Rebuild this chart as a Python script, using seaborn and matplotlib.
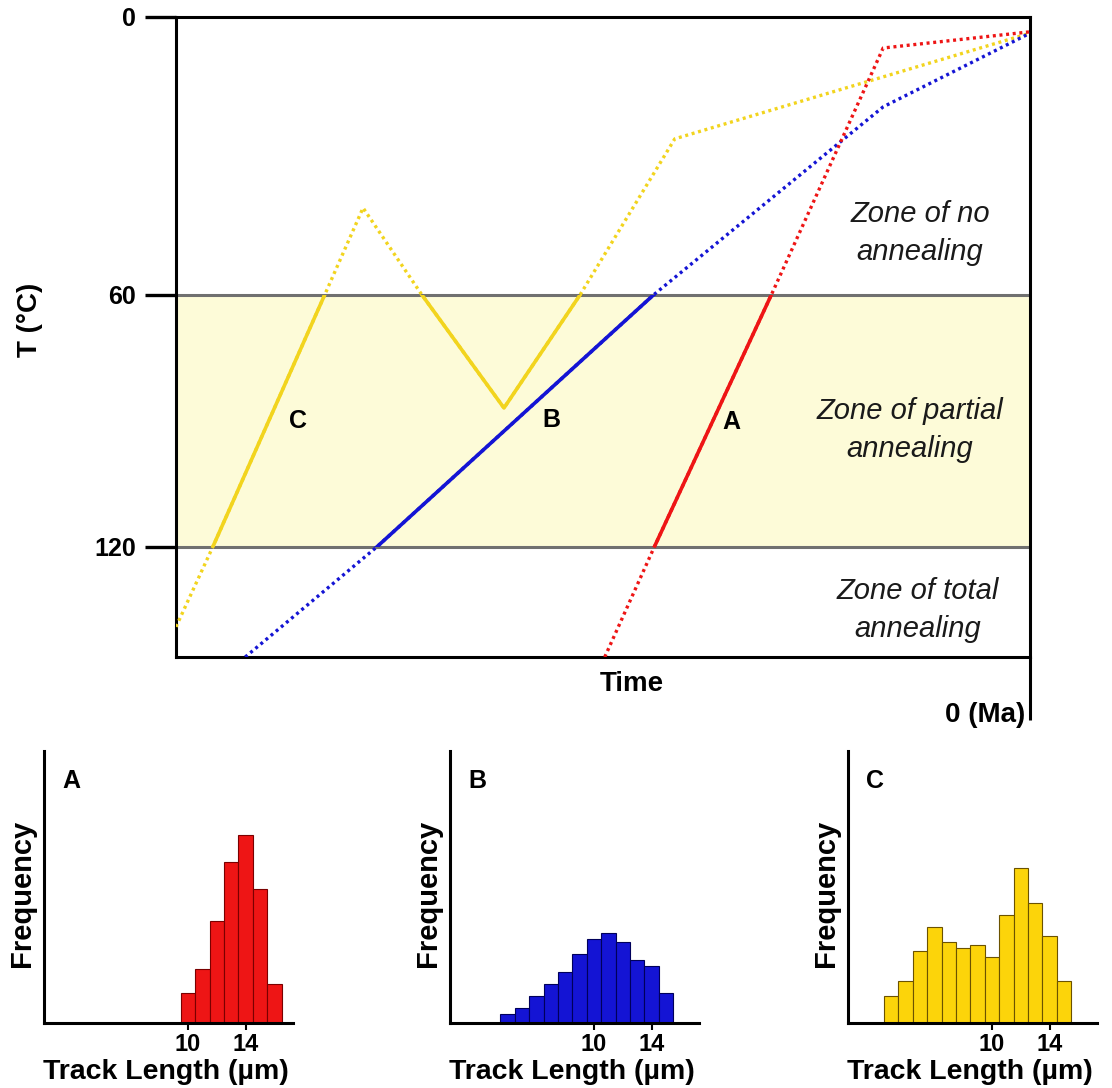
import numpy as np
import pandas as pd
import matplotlib
matplotlib.use("Agg")
import matplotlib.pyplot as plt
from matplotlib.patches import Rectangle
import seaborn as sns

# -----------------------------------------------
# Data: thermal histories (age in Ma, temperature in °C)
# -----------------------------------------------
age_A = [49.8, 44.0, 30.3, 17.2, 0.0]
temp_A = [146.2, 120, 60, 6.7, 3.2]

age_B = [91.9, 76.5, 44.1, 17.2, 0.0]
temp_B = [146.2, 120, 60, 19.4, 3.5]

age_C = [100.0, 95.7, 82.6, 78.1, 71.2, 61.6, 52.7, 41.6, 0.0]
temp_C = [139.0, 120, 60, 41.2, 60, 86.9, 60, 26.3, 3.5]

zone_top = 60
zone_bottom = 120
temp_ticks = [0, 60, 120]

# Track length histograms (bin centres in µm, frequency)
len_A = [10, 11, 12, 13, 14, 15, 16]
freq_A = [10, 18, 34, 54, 63, 45, 13]

len_B = [4, 5, 6, 7, 8, 9, 10, 11, 12, 13, 14, 15]
freq_B = [3, 5, 9, 13, 17, 23, 28, 30, 27, 21, 19, 10]

len_C = [3, 4, 5, 6, 7, 8, 9, 10, 11, 12, 13, 14, 15]
freq_C = [9, 14, 24, 32, 27, 25, 26, 22, 36, 52, 40, 29, 14]

length_ticks = [10, 14]

red = '#ee1515'
blue = '#1414d4'
yellow = '#f2d41e'

sns.set_style('white')
plt.rcParams['font.family'] = ['Liberation Sans', 'DejaVu Sans']
plt.rcParams['text.color'] = 'black'
plt.rcParams['xtick.color'] = 'black'
plt.rcParams['ytick.color'] = 'black'

fig = plt.figure(figsize=(11.12, 10.88), dpi=100)

# -----------------------------------------------
# 1. Main T-t plot
# -----------------------------------------------
ax = fig.add_axes([0.1583, 0.3961, 0.768, 0.5883])

# schematic: the 0-60 band is drawn a bit taller than 60-120
tk = [-100, 0, 60, 120, 400]
px = [-463.3, 0, 278, 530, 530 + 280 * 4.2]
fwd = lambda t: np.interp(t, tk, px)
inv = lambda p: np.interp(p, px, tk)
ax.set_yscale('function', functions=(fwd, inv))

ax.axhspan(zone_top, zone_bottom, color='#fdfbd8', zorder=0)
ax.axhline(zone_top, color='#707070', lw=2.2, zorder=1)
ax.axhline(zone_bottom, color='#707070', lw=2.2, zorder=1)

# solid inside the partial annealing zone, dotted outside
clip = Rectangle((0, zone_top), 100, zone_bottom - zone_top,
                 transform=ax.transData, facecolor='none', edgecolor='none')
ax.add_patch(clip)

for ages, temps, col in [(age_C, temp_C, yellow), (age_B, temp_B, blue), (age_A, temp_A, red)]:
    sns.lineplot(x=ages, y=temps, sort=False, estimator=None, ax=ax,
                 color=col, lw=2.4, linestyle=(0, (0.9, 1.1)), zorder=3)
    sns.lineplot(x=ages, y=temps, sort=False, estimator=None, ax=ax,
                 color=col, lw=2.6, linestyle='-', zorder=4)
    ax.lines[-1].set_clip_path(clip)

ax.set_xlim(100, 0)
ax.set_ylim(146.2, 0)

for s in ax.spines.values():
    s.set_color('black')
    s.set_linewidth(2.2)

ax.set_xticks([])
ax.set_yticks(temp_ticks)
ax.set_yticklabels([str(t) for t in temp_ticks], fontsize=18, fontweight='bold')
ax.tick_params(axis='y', direction='out', length=22, width=2.4, color='black', pad=7, left=True)
ax.set_xlabel('')
ax.set_ylabel('')

ax.plot([1, 1], [0, -0.098], transform=ax.transAxes, color='black', lw=2.2,
        clip_on=False, solid_capstyle='butt')

ax.text(85.7, 90, 'C', fontsize=18, fontweight='bold', ha='center', va='center')
ax.text(56.0, 89.8, 'B', fontsize=18, fontweight='bold', ha='center', va='center')
ax.text(35.0, 90.2, 'A', fontsize=18, fontweight='bold', ha='center', va='center')

zone_kw = dict(fontsize=21, fontstyle='italic', ha='center', va='center', linespacing=1.45,
               color='#1a1a1a')
ax.text(12.9, 46.6, 'Zone of no\nannealing', **zone_kw)
ax.text(14.1, 92.2, 'Zone of partial\nannealing', **zone_kw)
ax.text(13.1, 135.0, 'Zone of total\nannealing', **zone_kw)

ax.text(0.534, -0.042, 'Time', transform=ax.transAxes, fontsize=20, fontweight='bold',
        ha='center', va='center')
ax.text(0.947, -0.091, '0 (Ma)', transform=ax.transAxes, fontsize=20, fontweight='bold',
        ha='center', va='center')
fig.text(0.027, 0.706, 'T (°C)', rotation=90, fontsize=20, fontweight='bold',
         ha='center', va='center')

# -----------------------------------------------
# 2. Track length histograms
# -----------------------------------------------
hist_specs = [
    ('A', len_A, freq_A, red, '#7a0000', 0.0396),
    ('B', len_B, freq_B, blue, '#00005a', 0.4047),
    ('C', len_C, freq_C, '#fcd40a', '#6b5200', 0.7626),
]

for name, lens, freqs, col, ecol, left in hist_specs:
    hx = fig.add_axes([left, 0.0597, 0.224, 0.25])
    df = pd.DataFrame({'length': lens, 'freq': freqs})
    sns.histplot(data=df, x='length', weights='freq', binwidth=1,
                 binrange=(lens[0] - 0.5, lens[-1] + 0.5), ax=hx, color=col,
                 edgecolor=ecol, linewidth=0.8, alpha=1)
    hx.set_xlim(0, 17.3)
    hx.set_ylim(0, 91)
    for side in ['top', 'right']:
        hx.spines[side].set_visible(False)
    for side in ['left', 'bottom']:
        hx.spines[side].set_color('black')
        hx.spines[side].set_linewidth(2.2)
    hx.set_yticks([])
    hx.set_xticks(length_ticks)
    hx.set_xticklabels([str(t) for t in length_ticks], fontsize=17, fontweight='bold')
    hx.tick_params(axis='x', direction='out', length=5, width=1.5, color='black', pad=2,
                   bottom=True)
    hx.set_xlabel('')
    hx.set_ylabel('')
    hx.text(0.11, 0.89, name, transform=hx.transAxes, fontsize=18, fontweight='bold',
            ha='center', va='center')
    hx.text(-0.088, 0.478, 'Frequency', transform=hx.transAxes, rotation=90, fontsize=21,
            fontweight='bold', ha='center', va='center')
    hx.text(0.49, -0.18, 'Track Length (µm)', transform=hx.transAxes, fontsize=20.5,
            fontweight='bold', ha='center', va='center')

fig.savefig('out.png', dpi=100)
